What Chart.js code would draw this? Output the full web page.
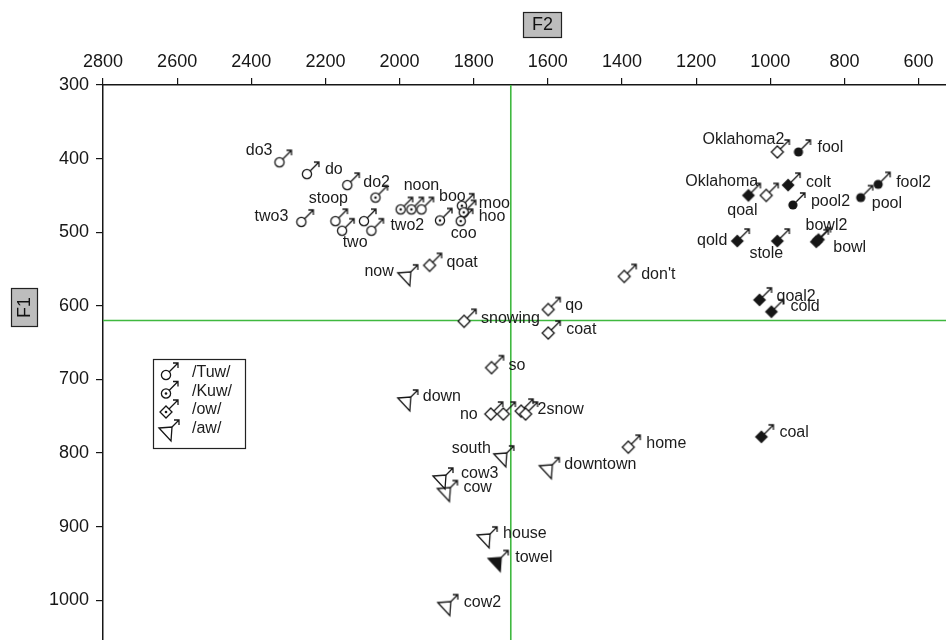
<!DOCTYPE html>
<html>
<head>
<meta charset="utf-8">
<script src="https://cdn.jsdelivr.net/npm/chart.js@4/dist/chart.umd.min.js"></script>
<style>
  html, body { margin: 0; padding: 0; background: #fff; }
  #wrap { width: 946px; height: 640px; }
</style>
</head>
<body>
<div id="wrap"><canvas id="vowels" width="946" height="640"></canvas></div>
<script>
// Vowel tokens: word, second formant (F2, Hz), first formant (F1, Hz), vowel class, solid marker
const words = [
  'do3', 'do', 'do2', 'stoop', 'two3', 'two', '', 'two2', '', '', '', 'noon', 'boo', 'moo', 'hoo', 'coo',
  'Oklahoma2', 'fool', 'Oklahoma', 'qoal', 'colt', 'pool2', 'pool', 'fool2', 'bowl', 'bowl2',
  'qold', 'stole', 'qoal2', 'cold', 'coal',
  'now', 'qoat', "don't", 'qo', 'snowing', 'coat', 'so', 'down', 'no', '', '', '2snow', 'home',
  'south', 'downtown', 'cow3', 'cow', 'house', 'towel', 'cow2'
];
const f2Values = [
  2324, 2250, 2141, 2173, 2265, 2155, 2096, 2076, 2065, 1997, 1968, 1941, 1891, 1832, 1827, 1835,
  981, 924, 1011, 1059, 952, 939, 756, 709, 876, 870,
  1089, 981, 1029, 997, 1024,
  1986, 1919, 1394, 1599, 1826, 1599, 1752, 1986, 1754, 1720, 1672, 1660, 1383,
  1727, 1604, 1891, 1879, 1772, 1742, 1878
];
const f1Values = [
  405, 421, 436, 485, 486, 498, 485, 498, 453, 469, 469, 469, 484, 464, 473, 485,
  391, 391, 450, 450, 436, 463, 453, 435, 513, 510,
  512, 512, 592, 608, 778,
  562, 545, 560, 605, 621, 637, 684, 732, 747, 747, 743, 747, 792,
  808, 824, 838, 855, 918, 950, 1010
];
const vowelClass = [
  'Tuw', 'Tuw', 'Tuw', 'Tuw', 'Tuw', 'Tuw', 'Tuw', 'Tuw', 'Kuw', 'Kuw', 'Kuw', 'Tuw', 'Kuw', 'Kuw', 'Kuw', 'Kuw',
  'ow', 'Kuw', 'ow', 'ow', 'ow', 'Kuw', 'Kuw', 'Kuw', 'ow', 'ow',
  'ow', 'ow', 'ow', 'ow', 'ow',
  'aw', 'ow', 'ow', 'ow', 'ow', 'ow', 'ow', 'aw', 'ow', 'ow', 'ow', 'ow', 'ow',
  'aw', 'aw', 'aw', 'aw', 'aw', 'aw', 'aw'
];
const solid = [
  0, 0, 0, 0, 0, 0, 0, 0, 0, 0, 0, 0, 0, 0, 0, 0,
  0, 1, 0, 1, 1, 1, 1, 1, 1, 1,
  1, 1, 1, 1, 1,
  0, 0, 0, 0, 0, 0, 0, 0, 0, 0, 0, 0, 0,
  0, 0, 0, 0, 0, 1, 0
];
const classNames = ['Tuw', 'Kuw', 'ow', 'aw'];
const legendLabels = ['/Tuw/', '/Kuw/', '/ow/', '/aw/'];
const f2Ticks = [2800, 2600, 2400, 2200, 2000, 1800, 1600, 1400, 1200, 1000, 800, 600];
const f1Ticks = [300, 400, 500, 600, 700, 800, 900, 1000];
const f2Mean = 1700;
const f1Mean = 620;
const f2Range = [526, 2800];
const f1Range = [300, 1054];

// Where each word sits relative to its marker: [dx, dy, align]
const labelPlacement = [
  [-7, -12, 'right'], [18, -4, 'left'], [16, -3, 'left'], [-7, -23, 'center'], [-13, -5, 'right'],
  [13, 12, 'center'], [0, 0, 'left'], [19, -5, 'left'], [0, 0, 'left'], [0, 0, 'left'], [0, 0, 'left'],
  [0, -24, 'center'], [-1, -24, 'left'], [17, -2, 'left'], [15, 4, 'left'], [3, 12, 'center'],
  [7, -12, 'right'], [19, -4, 'left'], [-8, -14, 'right'], [-6, 15, 'center'], [18, -3, 'left'],
  [18, -3, 'left'], [11, 6, 'left'], [18, -2, 'left'], [17, 6, 'left'], [8, -14, 'center'],
  [-10, 0, 'right'], [-11, 13, 'center'], [17, -3, 'left'], [19, -5, 'left'], [18, -4, 'left'],
  [-11, -6, 'right'], [17, -3, 'left'], [17, -2, 'left'], [17, -4, 'left'], [17, -3, 'left'],
  [18, -3, 'left'], [17, -2, 'left'], [18, -6, 'left'], [-13, 1, 'right'], [0, 0, 'left'],
  [0, 0, 'left'], [12, -4, 'left'], [18, -4, 'left'],
  [-10, -10, 'right'], [18, -6, 'left'], [21, -7, 'left'], [19, -6, 'left'], [19, -6, 'left'],
  [20, -6, 'left'], [19, -5, 'left']
];

const FONT = '"Liberation Sans", Arial, Helvetica, sans-serif';
const INK = '#161616';

// Marker glyph: a class shape with a male-sign arrow pointing up and to the right
function drawGlyph(ctx, kind, filled, dotted) {
  ctx.save();
  ctx.strokeStyle = INK;
  ctx.fillStyle = INK;
  ctx.lineWidth = 1.3;
  ctx.lineJoin = 'miter';
  let start;
  ctx.beginPath();
  if (kind === 'Tuw' || kind === 'Kuw') {
    const r = 4.6;
    ctx.arc(0, 0, r, 0, Math.PI * 2);
    if (filled) { ctx.fill(); } else { ctx.fillStyle = '#fff'; ctx.fill(); ctx.stroke(); }
    if (!filled && (kind === 'Kuw' || dotted)) {
      ctx.beginPath(); ctx.fillStyle = INK; ctx.arc(0, 0, 1.3, 0, Math.PI * 2); ctx.fill();
    }
    start = [3.3, -3.3];
  } else if (kind === 'ow') {
    const h = filled ? 6.5 : 6;
    ctx.moveTo(0, -h); ctx.lineTo(h, 0); ctx.lineTo(0, h); ctx.lineTo(-h, 0); ctx.closePath();
    if (filled) { ctx.fill(); } else { ctx.fillStyle = '#fff'; ctx.fill(); ctx.stroke(); }
    if (!filled && dotted) {
      ctx.beginPath(); ctx.fillStyle = INK; ctx.arc(0, 0, 1.3, 0, Math.PI * 2); ctx.fill();
    }
    start = [3, -3];
  } else {
    ctx.moveTo(-7, -5); ctx.lineTo(6, -6); ctx.lineTo(5, 8); ctx.closePath();
    if (filled) { ctx.fill(); ctx.stroke(); } else { ctx.stroke(); }
    start = [6, -6];
  }
  const tip = kind === 'aw' ? [13, -13] : [12, -12];
  ctx.fillStyle = INK;
  ctx.beginPath();
  ctx.moveTo(start[0], start[1]); ctx.lineTo(tip[0], tip[1]);
  ctx.moveTo(tip[0] - 5, tip[1]); ctx.lineTo(tip[0], tip[1]); ctx.lineTo(tip[0], tip[1] + 5);
  ctx.stroke();
  ctx.restore();
}

const glyphCache = {};
function glyphImage(kind, filled) {
  const key = kind + (filled ? '1' : '0');
  if (!glyphCache[key]) {
    const c = document.createElement('canvas');
    c.width = 40; c.height = 40;
    const g = c.getContext('2d');
    g.translate(20, 20);
    drawGlyph(g, kind, filled, false);
    glyphCache[key] = c;
  }
  return glyphCache[key];
}

// One scatter dataset per vowel class
const classSets = classNames.map(name => {
  const pts = [];
  words.forEach((w, i) => {
    if (vowelClass[i] === name) pts.push({ x: f2Values[i], y: f1Values[i], word: w, filled: solid[i], idx: i });
  });
  return {
    label: name,
    data: pts,
    pointRadius: 5,
    pointHoverRadius: 5,
    pointStyle: c => glyphImage(name, c.raw && c.raw.filled),
    showLine: false,
    order: 1
  };
});

// Mean reference lines
const meanLines = [
  { label: 'F2 mean', data: [{ x: f2Mean, y: f1Range[0] }, { x: f2Mean, y: f1Range[1] }] },
  { label: 'F1 mean', data: [{ x: f2Range[0], y: f1Mean }, { x: f2Range[1], y: f1Mean }] }
].map(d => Object.assign(d, {
  showLine: true, borderColor: '#3fb83f', borderWidth: 1.6, pointRadius: 0, fill: false, order: 5
}));

const wordLabels = {
  id: 'wordLabels',
  afterDatasetsDraw(chart) {
    const ctx = chart.ctx;
    ctx.save();
    ctx.font = '16px ' + FONT;
    ctx.fillStyle = '#1c1c1c';
    ctx.textBaseline = 'middle';
    chart.data.datasets.forEach((ds, di) => {
      if (!classNames.includes(ds.label)) return;
      chart.getDatasetMeta(di).data.forEach((el, i) => {
        const raw = ds.data[i];
        if (!raw.word) return;
        const p = labelPlacement[raw.idx];
        ctx.textAlign = p[2];
        ctx.fillText(raw.word, el.x + p[0], el.y + p[1]);
      });
    });
    ctx.restore();
  }
};

const frameExtras = {
  id: 'frameExtras',
  afterDraw(chart) {
    const ctx = chart.ctx;
    ctx.save();
    // key box
    ctx.strokeStyle = '#222';
    ctx.lineWidth = 1.2;
    ctx.strokeRect(153.5, 359.5, 92, 89);
    const rows = [375, 393.5, 412, 433];
    const textRows = [373, 391.5, 410, 429];
    ctx.font = '16px ' + FONT;
    ctx.fillStyle = '#1c1c1c';
    ctx.textBaseline = 'middle';
    ctx.textAlign = 'left';
    classNames.forEach((name, k) => {
      ctx.save();
      ctx.translate(166, rows[k]);
      drawGlyph(ctx, name, false, name === 'ow');
      ctx.restore();
      ctx.fillText(legendLabels[k], 192, textRows[k]);
    });
    // axis titles in grey boxes
    ctx.fillStyle = '#bdbdbd';
    ctx.strokeStyle = '#222';
    ctx.lineWidth = 1.2;
    ctx.fillRect(523.5, 12.5, 38, 25);
    ctx.strokeRect(523.5, 12.5, 38, 25);
    ctx.fillRect(11.5, 288.5, 26, 38);
    ctx.strokeRect(11.5, 288.5, 26, 38);
    ctx.fillStyle = '#111';
    ctx.font = '18px ' + FONT;
    ctx.textAlign = 'center';
    ctx.textBaseline = 'middle';
    ctx.fillText('F2', 542.5, 25.5);
    ctx.translate(24.5, 307.5);
    ctx.rotate(-Math.PI / 2);
    ctx.fillText('F1', 0, 1);
    ctx.restore();
  }
};

const plainTick = v => String(v);

new Chart(document.getElementById('vowels'), {
  type: 'scatter',
  data: { datasets: classSets.concat(meanLines) },
  options: {
    responsive: false,
    animation: false,
    devicePixelRatio: 1,
    layout: { padding: 0, autoPadding: false },
    events: [],
    plugins: { legend: { display: false }, tooltip: { enabled: false } },
    scales: {
      x: {
        type: 'linear',
        position: 'top',
        reverse: true,
        min: f2Range[0],
        max: f2Range[1],
        afterBuildTicks: s => { s.ticks = f2Ticks.map(v => ({ value: v })); },
        afterFit: s => { s.height = 85; s.paddingLeft = 0; s.paddingRight = 0; },
        ticks: { font: { family: FONT, size: 18 }, color: '#161616', padding: 5, maxRotation: 0, autoSkip: false, callback: plainTick },
        grid: { drawOnChartArea: false, drawTicks: true, tickLength: 7, color: '#161616', lineWidth: 1.2 },
        border: { display: true, color: '#161616', width: 1.5 }
      },
      y: {
        type: 'linear',
        position: 'left',
        reverse: true,
        min: f1Range[0],
        max: f1Range[1],
        afterBuildTicks: s => { s.ticks = f1Ticks.map(v => ({ value: v })); },
        afterFit: s => { s.width = 103; s.paddingTop = 0; s.paddingBottom = 0; },
        ticks: { font: { family: FONT, size: 18 }, color: '#161616', padding: 7, autoSkip: false, callback: plainTick },
        grid: { drawOnChartArea: false, drawTicks: true, tickLength: 7, color: '#161616', lineWidth: 1.2 },
        border: { display: true, color: '#161616', width: 1.5 }
      }
    }
  },
  plugins: [wordLabels, frameExtras]
});
</script>
</body>
</html>
